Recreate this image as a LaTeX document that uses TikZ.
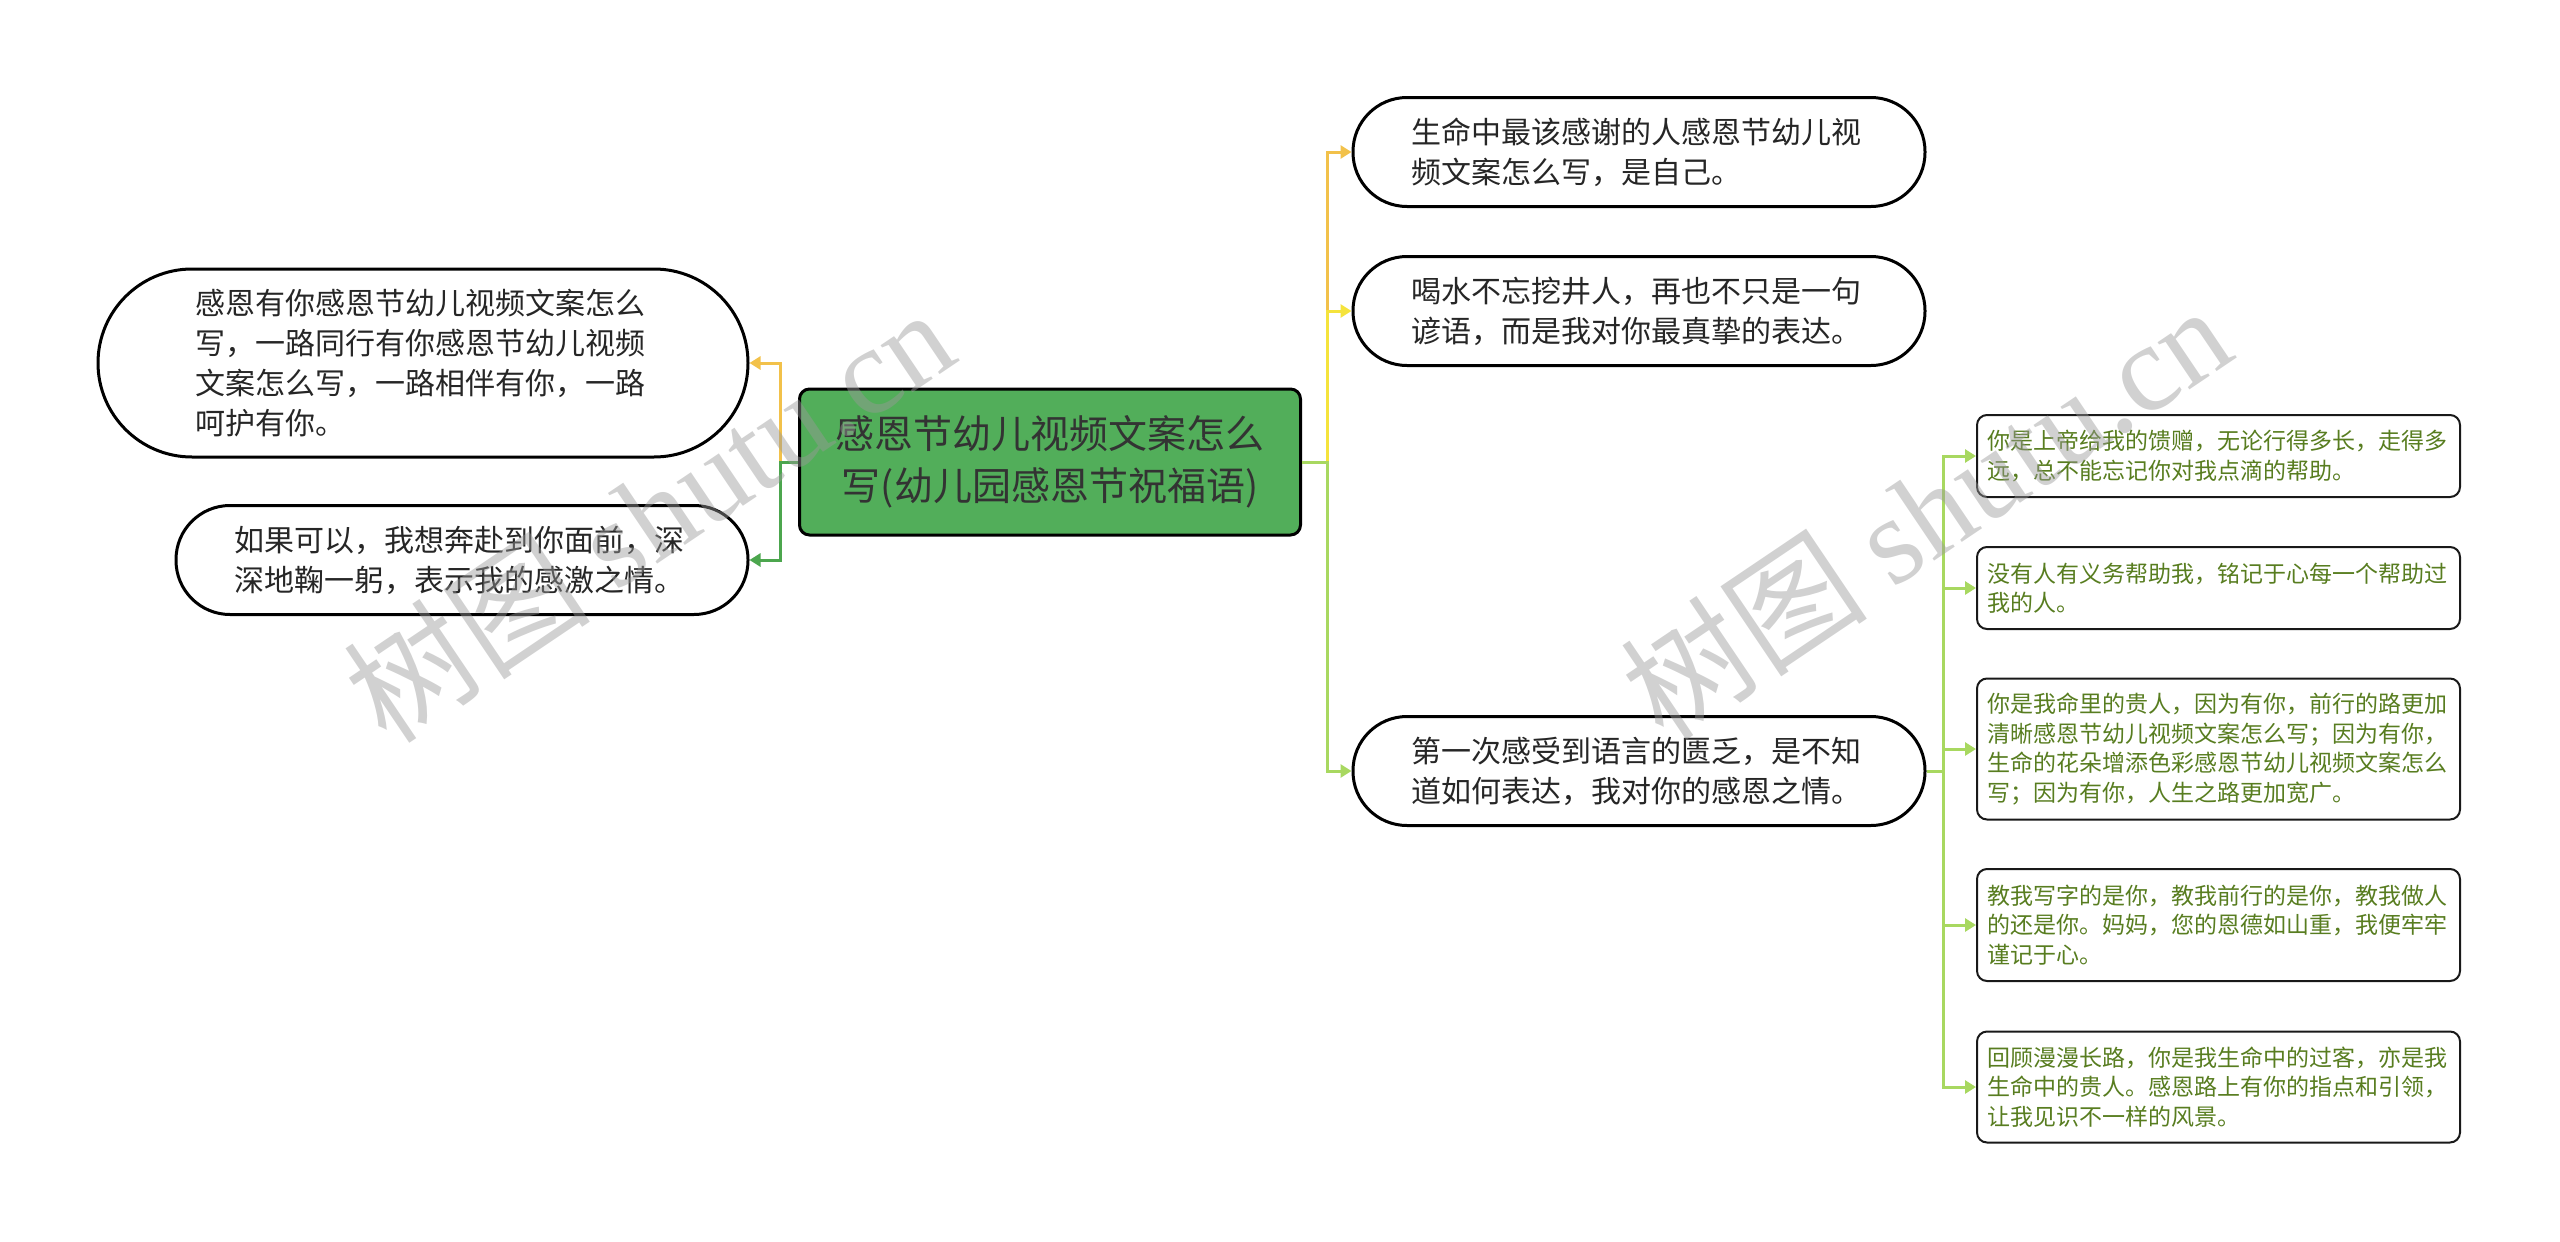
\documentclass[tikz,border=0pt]{standalone}
\usepackage{fontspec}
\setmainfont{Noto Sans CJK SC}
\newfontfamily\markfont{Liberation Serif}
\usetikzlibrary{arrows.meta}
\definecolor{root-green}{HTML}{52AE5A}
\definecolor{gold-line}{HTML}{F2C14A}
\definecolor{yellow-line}{HTML}{F5E33C}
\definecolor{lime-line}{HTML}{A8D860}
\definecolor{green-line}{HTML}{4CA64E}
\definecolor{leaf-text}{HTML}{587D20}
\tikzset{
    root-box/.style = {draw=black, fill=root-green, line width=3pt, rectangle, rounded corners=10pt, minimum width=501pt, minimum height=146pt, align=center, text=black!80, font=\fontsize{39}{52}\selectfont},
    topic-box/.style = {draw=black, fill=white, line width=3pt, rectangle, rounded corners=54pt, minimum width=572pt, minimum height=109pt, text width=456pt, align=left, text=black!85, font=\fontsize{30}{40}\selectfont},
    leaf-box/.style = {draw=black!90, fill=white, line width=2pt, rectangle, rounded corners=10pt, minimum width=483pt, text width=462pt, align=left, text=leaf-text, font=\fontsize{23}{29.4}\selectfont},
    link/.style = {line width=3pt, -{Triangle[length=11pt,width=13pt]}},
    mark-text/.style = {text=black!40, text opacity=0.45, rotate=34, font=\fontsize{124}{124}\selectfont},
}

\begin{document}
\begin{tikzpicture}[x=1pt, y=-1pt]
\useasboundingbox (0,0) rectangle (2560,1242);
\node [root-box] (root) at (1050,462) {感恩节幼儿视频文案怎么\\写(幼儿园感恩节祝福语)};
\node [topic-box, minimum width=650pt, minimum height=188pt, rounded corners=94pt] (together) at (423,363) {感恩有你感恩节幼儿视频文案怎么\\写，一路同行有你感恩节幼儿视频\\文案怎么写，一路相伴有你，一路\\呵护有你。};
\node [topic-box] (bow) at (462,560) {如果可以，我想奔赴到你面前，深\\深地鞠一躬，表示我的感激之情。};
\node [topic-box] (self) at (1639,152) {生命中最该感谢的人感恩节幼儿视\\频文案怎么写，是自己。};
\node [topic-box] (well) at (1639,311) {喝水不忘挖井人，再也不只是一句\\谚语，而是我对你最真挚的表达。};
\node [topic-box] (words) at (1639,771) {第一次感受到语言的匮乏，是不知\\道如何表达，我对你的感恩之情。};
\node [leaf-box, minimum height=82pt] (gift) at (2218.5,456) {你是上帝给我的馈赠，无论行得多长，走得多\\远，总不能忘记你对我点滴的帮助。};
\node [leaf-box, minimum height=82pt] (duty) at (2218.5,588) {没有人有义务帮助我，铭记于心每一个帮助过\\我的人。};
\node [leaf-box, minimum height=141pt] (noble) at (2218.5,749) {你是我命里的贵人，因为有你，前行的路更加\\清晰感恩节幼儿视频文案怎么写；因为有你，\\生命的花朵增添色彩感恩节幼儿视频文案怎么\\写；因为有你，人生之路更加宽广。};
\node [leaf-box, minimum height=112pt] (teach) at (2218.5,925) {教我写字的是你，教我前行的是你，教我做人\\的还是你。妈妈，您的恩德如山重，我便牢牢\\谨记于心。};
\node [leaf-box, minimum height=111pt] (journey) at (2218.5,1087) {回顾漫漫长路，你是我生命中的过客，亦是我\\生命中的贵人。感恩路上有你的指点和引领，\\让我见识不一样的风景。};
\draw [link, gold-line] (root.west) -- ++(-18,0) |- (together.east);
\draw [link, green-line] (root.west) -- ++(-18,0) |- (bow.east);
\draw [link, gold-line] (root.east) -- ++(25,0) |- (self.west);
\draw [link, yellow-line] (root.east) -- ++(25,0) |- (well.west);
\draw [link, lime-line] (root.east) -- ++(25,0) |- (words.west);
\foreach \leaf in {gift,duty,noble,teach,journey}
    \draw [link, lime-line] (words.east) -- ++(17,0) |- (\leaf.west);
\node [mark-text] (mark-left) at (648,514) {树图 {\markfont shutu.cn}};
\node [mark-text] (mark-right) at (1925,511) {树图 {\markfont shutu.cn}};
\end{tikzpicture}
\end{document}
